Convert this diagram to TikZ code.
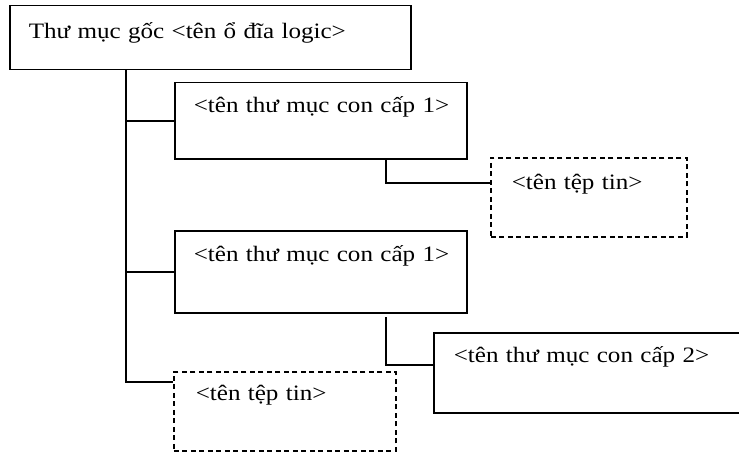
\documentclass[tikz,border=0pt]{standalone}
\usepackage{fontspec}
\setmainfont{Liberation Serif}[FakeStretch=1.14]
\begin{document}
\begin{tikzpicture}[x=1pt,y=-1pt,
  boxbase/.style={anchor=north west, inner ysep=0pt, align=left,
    line width=1.5pt, font=\fontsize{22}{26}\selectfont},
  dirbox/.style={boxbase, draw},
  filebox/.style={boxbase, draw, dash pattern=on 5pt off 3.5pt},
  conn/.style={draw, line width=1.5pt}]
\useasboundingbox (0,0) rectangle (739,452);
\fill[white] (0,0) rectangle (739,452);
% root: 9,5 - 410,69
\node[dirbox, inner xsep=19pt, text width=363pt, text height=33pt, text depth=31pt] (root) at (9,5)
  {\mbox{Thư mục gốc <tên ổ đĩa logic>}};
% sub1: 174,82 - 466,158
\node[dirbox, inner xsep=19pt, text width=254pt, text height=30pt, text depth=46pt] (sub1) at (174,82)
  {\mbox{<tên thư mục con cấp 1>}};
% file1: 490,157 - 686,236
\node[filebox, inner xsep=21pt, text width=154pt, text height=32pt, text depth=47pt] (file1) at (490,157)
  {\mbox{<tên tệp tin>}};
% sub1b: 174,230 - 466,312
\node[dirbox, inner xsep=19pt, text width=254pt, text height=31pt, text depth=51pt] (sub1b) at (174,230)
  {\mbox{<tên thư mục con cấp 1>}};
% sub2: 433,332 - 770,412 (cut by the page edge)
\node[dirbox, inner xsep=20pt, text width=297pt, text height=30pt, text depth=50pt] (sub2) at (433,332)
  {\mbox{<tên thư mục con cấp 2>}};
% file2: 173,371 - 395,450
\node[filebox, inner xsep=22pt, text width=178pt, text height=29pt, text depth=50pt] (file2) at (173,371)
  {\mbox{<tên tệp tin>}};
% connectors
\draw[conn] (root.south -| 126,0) |- (file2.west |- 0,382);
\draw[conn] (sub1.west -| 126,0) -- (sub1.west);
\draw[conn] (sub1b.west -| 126,0) -- (sub1b.west);
\draw[conn] (sub1.south -| 386,0) |- (file1.west |- 0,183);
\draw[conn] (386,317) |- (sub2.west |- 0,365);
\end{tikzpicture}
\end{document}
